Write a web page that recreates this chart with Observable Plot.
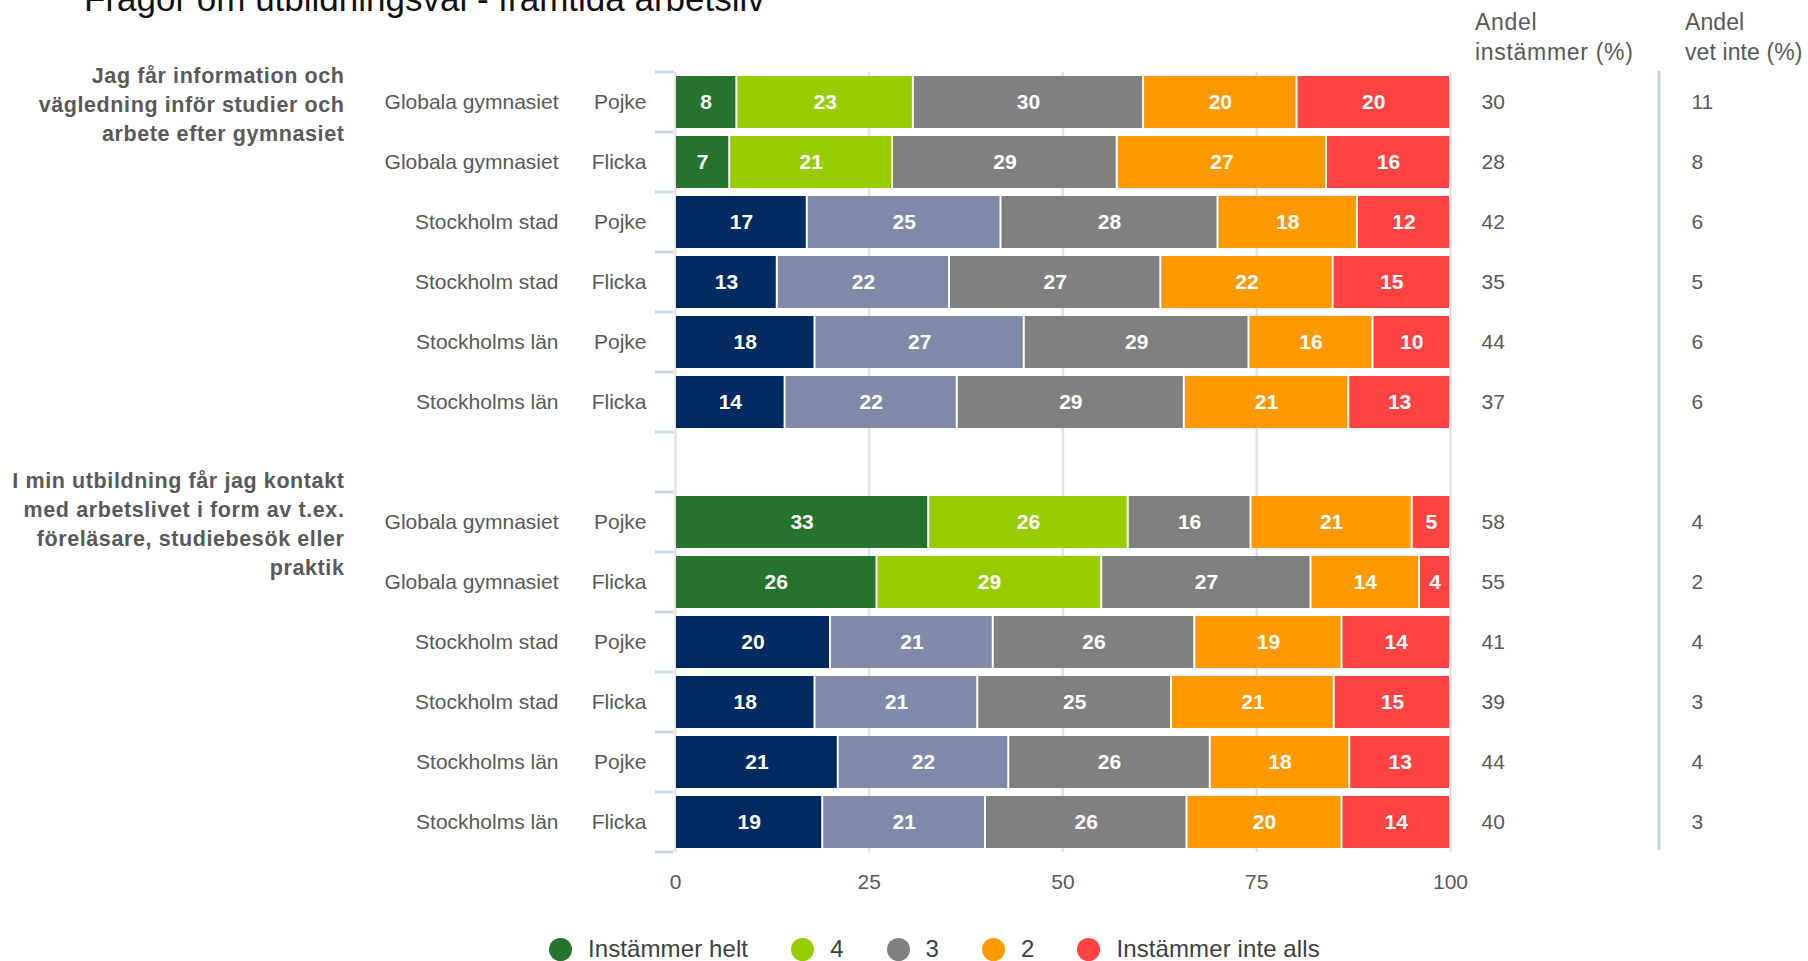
<!DOCTYPE html>
<html>
<head>
<meta charset="utf-8">
<script src="https://cdn.jsdelivr.net/npm/d3@7"></script>
<script src="https://cdn.jsdelivr.net/npm/@observablehq/plot@0.6"></script>
<style>
html,body{margin:0;padding:0;background:#fff;}
#page{position:relative;width:1808px;height:961px;overflow:hidden;font-family:'Liberation Sans',Arial,sans-serif;color:#595959;background:#fff;}
#title{position:absolute;left:84px;top:-19px;font-size:35px;line-height:35px;color:#111;white-space:nowrap;}
.hdr{position:absolute;top:7px;font-size:23px;line-height:30px;color:#595959;white-space:pre;}
#chart{position:absolute;left:0;top:0;}
#legend{position:absolute;left:549px;top:934px;display:flex;align-items:center;font-size:24px;line-height:30px;color:#404040;white-space:nowrap;letter-spacing:0.1px;}
.item{display:flex;align-items:center;margin-right:43px;}
.dot{width:23px;height:23px;border-radius:50%;margin-right:16px;}
</style>
</head>
<body>
<div id="page">
  <div id="title">Frågor om utbildningsval - framtida arbetsliv</div>
  <div class="hdr" id="h1" style="left:1475px;letter-spacing:0.7px;"></div>
  <div class="hdr" id="h2" style="left:1685px;letter-spacing:0.1px;"></div>
  <div id="chart"></div>
  <div id="legend"></div>
</div>
<script>
// ---- Data ----
const questions = [
  "Jag får information och\nvägledning inför studier och\narbete efter gymnasiet",
  "I min utbildning får jag kontakt\nmed arbetslivet i form av t.ex.\nföreläsare, studiebesök eller\npraktik"
];
const locations = ["Globala gymnasiet","Globala gymnasiet","Stockholm stad","Stockholm stad","Stockholms län","Stockholms län"];
const genders = ["Pojke","Flicka","Pojke","Flicka","Pojke","Flicka"];
const levels = ["Instämmer helt","4","3","2","Instämmer inte alls"];
const q1Values = [[8,23,30,20,20],[7,21,29,27,16],[17,25,28,18,12],[13,22,27,22,15],[18,27,29,16,10],[14,22,29,21,13]];
const q2Values = [[33,26,16,21,5],[26,29,27,14,4],[20,21,26,19,14],[18,21,25,21,15],[21,22,26,18,13],[19,21,26,20,14]];
const q1Instammer = [30,28,42,35,44,37];
const q1VetInte = [11,8,6,5,6,6];
const q2Instammer = [58,55,41,39,44,40];
const q2VetInte = [4,2,4,3,4,3];
const axisTicks = [0,25,50,75,100];
const headerInstammer = "Andel\ninstämmer (%)";
const headerVetInte = "Andel\nvet inte (%)";
const globalaColors = ["#26732e","#99cc00","#808080","#ff9900","#ff4343"];
const stockholmColors = ["#002b62","#8089a7","#808080","#ff9900","#ff4343"];

// ---- Build tables ----
const qValues = [q1Values, q2Values];
const qInst = [q1Instammer, q2Instammer];
const qVet = [q1VetInte, q2VetInte];
const rows = [];
qValues.forEach((vals, qi) => vals.forEach((v, i) => rows.push({
  key: `q${qi}-${i}`, question: questions[qi], first: i === 0,
  location: locations[i], gender: genders[i], values: v,
  instammer: qInst[qi][i], vetInte: qVet[qi][i]
})));
const yDomain = [...rows.slice(0, 6).map(r => r.key), "gap", ...rows.slice(6).map(r => r.key)];
const segments = rows.flatMap(r => r.values.map((value, j) => ({
  key: r.key, level: levels[j], value,
  color: (r.location === "Globala gymnasiet" ? globalaColors : stockholmColors)[j]
})));

const font = "'Liberation Sans', Arial, sans-serif";
const grey = "#595959";

const chart = Plot.plot({
  width: 1808, height: 900,
  marginLeft: 675, marginRight: 358, marginTop: 72, marginBottom: 48,
  style: {fontFamily: font, fontSize: "21px", color: grey, background: "transparent", overflow: "visible"},
  x: {domain: [0, 1], ticks: axisTicks.map(t => t / 100), tickFormat: d => Math.round(d * 100), tickSize: 0, tickPadding: 22, label: null},
  y: {domain: yDomain, paddingInner: 0.14, paddingOuter: 0.07, axis: null},
  color: {type: "identity"},
  marks: [
    Plot.ruleX(axisTicks, {x: d => d / 100, stroke: "#e3e3e3", strokeWidth: 2.5}),
    Plot.barX(segments, Plot.stackX({x: "value", y: "key", fill: "color", offset: "normalize", insetLeft: 1, insetRight: 1})),
    Plot.text(segments, Plot.stackX({x: "value", y: "key", text: d => String(d.value), offset: "normalize", fill: "white", fontWeight: "bold", fontSize: 21})),
    Plot.text(rows, {y: "key", text: "location", frameAnchor: "left", dx: -117, textAnchor: "end", fill: grey, fontSize: 21}),
    Plot.text(rows, {y: "key", text: "gender", frameAnchor: "left", dx: -29, textAnchor: "end", fill: grey, fontSize: 21}),
    Plot.text(rows.filter(r => r.first), {y: "key", text: "question", frameAnchor: "left", dx: -331, textAnchor: "end", fill: grey, fontSize: 21.5, fontWeight: "bold", lineHeight: 1.35, ariaDescription: "question-labels"}),
    Plot.text(rows, {y: "key", text: d => String(d.instammer), frameAnchor: "right", dx: 31, textAnchor: "start", fill: grey, fontSize: 21}),
    Plot.text(rows, {y: "key", text: d => String(d.vetInte), frameAnchor: "right", dx: 241, textAnchor: "start", fill: grey, fontSize: 21})
  ]
});
document.getElementById("chart").appendChild(chart);

// ---- Decorations using the plot's scales ----
const ys = chart.scale("y");
const xs = chart.scale("x");
const gap = (ys.step - ys.bandwidth) / 2;
const boundaries = yDomain.map(k => ys.apply(k) - gap);
boundaries.push(ys.apply(yDomain[yDomain.length - 1]) + ys.bandwidth + gap);
const svg = d3.select(chart.tagName.toLowerCase() === "svg" ? chart : chart.querySelector("svg"));
svg.selectAll('[aria-description="question-labels"] text').style("letter-spacing", "0.6px");
const deco = svg.append("g");
const x0 = xs.apply(0), x100 = xs.apply(1);
deco.selectAll("line.tick").data(boundaries).join("line")
  .attr("x1", x0 - 20).attr("x2", x0 - 1.5)
  .attr("y1", d => d).attr("y2", d => d)
  .attr("stroke", "#c9d3e6").attr("stroke-width", 3);
deco.append("line")
  .attr("x1", x100 + 209).attr("x2", x100 + 209)
  .attr("y1", boundaries[0] - 1).attr("y2", boundaries[boundaries.length - 1] - 2)
  .attr("stroke", "#c5d1e8").attr("stroke-width", 3);

// ---- Headers and legend ----
document.getElementById("h1").textContent = headerInstammer;
document.getElementById("h2").textContent = headerVetInte;
const legend = d3.select("#legend");
levels.forEach((lv, i) => {
  const it = legend.append("div").attr("class", "item");
  it.append("div").attr("class", "dot").style("background", globalaColors[i]);
  it.append("span").text(lv);
});
</script>
</body>
</html>
